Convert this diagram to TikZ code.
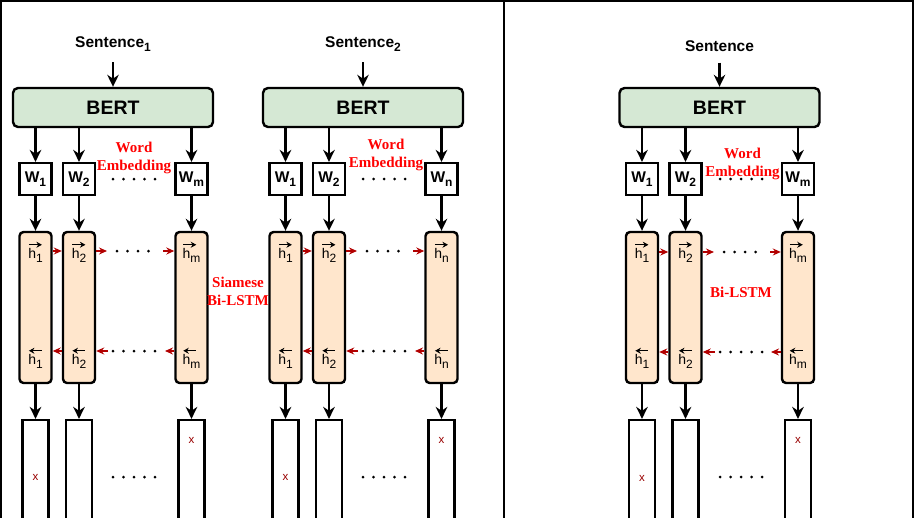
\documentclass[tikz,border=0pt]{standalone}
\usepackage{fontspec}
\setmainfont{Liberation Serif}
\setsansfont{Liberation Sans}
\usetikzlibrary{arrows.meta}

\definecolor{bertgreen}{HTML}{D5E8D4}
\definecolor{lstmorange}{HTML}{FFE6CC}
\definecolor{arrowred}{HTML}{B20000}
\definecolor{xred}{HTML}{990000}

% subscripts and hidden states with a direction arrow on top
\newcommand{\sub}[1]{\raisebox{-3.5pt}{\fontsize{12}{12}\selectfont #1}}
\newcommand{\hfw}[1]{\rlap{\raisebox{11pt}{\tikz\draw[-{Stealth[length=5.5pt,width=6pt]},line width=1.3pt] (0pt,0pt) -- (13pt,0pt);}}h\sub{#1}}
\newcommand{\hbw}[1]{\rlap{\raisebox{11pt}{\tikz\draw[{Stealth[length=5.5pt,width=6pt]}-,line width=1.3pt] (0pt,0pt) -- (13pt,0pt);}}h\sub{#1}}

\begin{document}
\begin{tikzpicture}[x=1pt,y=-1pt,
  arr/.style={-{Stealth[length=12pt,width=11.5pt]},line width=2.2pt},
  rarr/.style={-{Stealth[length=8pt,width=7pt]},line width=1.4pt,draw=arrowred},
  dotrow/.style={line width=3pt,line cap=round,dash pattern=on 0pt off 10.5pt},
  sent/.style={font=\sffamily\bfseries\fontsize{15.5}{18}\selectfont,inner sep=0pt},
  bert/.style={draw,line width=2.4pt,rounded corners=5pt,fill=bertgreen,minimum width=200pt,minimum height=39pt,font=\sffamily\bfseries\fontsize{19.5}{22}\selectfont},
  wbox/.style={draw,line width=2.2pt,fill=white,minimum width=32pt,minimum height=32pt,inner sep=0pt,font=\sffamily\bfseries\fontsize{15.5}{17}\selectfont},
  lstm/.style={draw,line width=2.4pt,rounded corners=4pt,fill=lstmorange,minimum width=32pt,minimum height=151pt},
  hlab/.style={font=\sffamily\fontsize{14}{16}\selectfont,inner sep=0pt},
  outbox/.style={draw,line width=2.2pt,fill=white,minimum width=26pt,minimum height=130pt},
  xlab/.style={text=xred,font=\sffamily\fontsize{11.5}{12}\selectfont,inner sep=0pt},
  redlab/.style={text=red,font=\bfseries\fontsize{15}{18}\selectfont,align=center,inner sep=0pt}]

\clip (0,0) rectangle (918,517);

% Frame and divider
\draw[line width=2.2pt] (1,530) -- (1,1) -- (913,1) -- (913,530);
\draw[line width=2.2pt] (504,1) -- (504,530);

% ---------- Panel 1: Sentence 1 ----------
\node[sent] (s1) at (113,44) {Sentence\sub{1}};
\node[bert] (b1) at (113,107.5) {BERT};
\draw[arr,shorten <=11pt] (s1) -- (b1);

% word embeddings
\node[wbox] (w11) at (35.5,179) {W\sub{1}};
\node[wbox] (w12) at (79,179) {W\sub{2}};
\node[wbox] (w1m) at (191.5,179) {W\sub{m}};
\draw[arr] (b1.south -| w11) -- (w11);
\draw[arr] (b1.south -| w12) -- (w12);
\draw[arr] (b1.south -| w1m) -- (w1m);
\draw[dotrow] (113,179) -- (156,179);
\node[redlab] (we1) at (134,158) {Word\\Embedding};

% Bi-LSTM cells
\node[lstm] (l11) at (35.5,307.5) {};
\node[lstm] (l12) at (79,307.5) {};
\node[lstm] (l1m) at (191.5,307.5) {};
\draw[arr] (w11) -- (l11);
\draw[arr] (w12) -- (l12);
\draw[arr] (w1m) -- (l1m);
\node[hlab] (f11) at (35.5,252) {\hfw{1}};
\node[hlab] (f12) at (79,252) {\hfw{2}};
\node[hlab] (f1m) at (191.5,252) {\hfw{m}};
\node[hlab] (k11) at (35.5,358) {\hbw{1}};
\node[hlab] (k12) at (79,358) {\hbw{2}};
\node[hlab] (k1m) at (191.5,358) {\hbw{m}};

% forward and backward passes
\coordinate (fa1) at (107,251);
\coordinate (fb1) at (163,251);
\draw[rarr] (l11.east |- fa1) -- (l12.west |- fa1);
\draw[rarr] (l12.east |- fa1) -- (fa1);
\draw[rarr] (fb1) -- (l1m.west |- fb1);
\draw[dotrow] (117,251) -- (158,251);
\coordinate (ba1) at (108,351);
\coordinate (bb1) at (165,351);
\draw[rarr] (l12.west |- ba1) -- (l11.east |- ba1);
\draw[rarr] (ba1) -- (l12.east |- ba1);
\draw[rarr] (l1m.west |- bb1) -- (bb1);
\draw[dotrow] (113,351) -- (156,351);

% outputs
\node[outbox] (o11) at (35.5,485) {};
\node[outbox] (o12) at (79,485) {};
\node[outbox] (o1m) at (191.5,485) {};
\draw[arr] (l11) -- (o11);
\draw[arr] (l12) -- (o12);
\draw[arr] (l1m) -- (o1m);
\node[xlab] (x11) at (35.5,477) {x};
\node[xlab] (x1m) at (191.5,440) {x};
\draw[dotrow] (113,477) -- (156,477);

\node[redlab] (sbl) at (238,291) {Siamese\\Bi-LSTM};

% ---------- Panel 2: Sentence 2 ----------
\node[sent] (s2) at (363,44) {Sentence\sub{2}};
\node[bert] (b2) at (363,107.5) {BERT};
\draw[arr,shorten <=11pt] (s2) -- (b2);

% word embeddings
\node[wbox] (w21) at (285.5,179) {W\sub{1}};
\node[wbox] (w22) at (329,179) {W\sub{2}};
\node[wbox] (w2n) at (441.5,179) {W\sub{n}};
\draw[arr] (b2.south -| w21) -- (w21);
\draw[arr] (b2.south -| w22) -- (w22);
\draw[arr] (b2.south -| w2n) -- (w2n);
\draw[dotrow] (363,179) -- (406,179);
\node[redlab] (we2) at (386,155) {Word\\Embedding};

% Bi-LSTM cells
\node[lstm] (l21) at (285.5,307.5) {};
\node[lstm] (l22) at (329,307.5) {};
\node[lstm] (l2n) at (441.5,307.5) {};
\draw[arr] (w21) -- (l21);
\draw[arr] (w22) -- (l22);
\draw[arr] (w2n) -- (l2n);
\node[hlab] (f21) at (285.5,252) {\hfw{1}};
\node[hlab] (f22) at (329,252) {\hfw{2}};
\node[hlab] (f2n) at (441.5,252) {\hfw{n}};
\node[hlab] (k21) at (285.5,358) {\hbw{1}};
\node[hlab] (k22) at (329,358) {\hbw{2}};
\node[hlab] (k2n) at (441.5,358) {\hbw{n}};

% forward and backward passes
\coordinate (fa2) at (357,251);
\coordinate (fb2) at (413,251);
\draw[rarr] (l21.east |- fa2) -- (l22.west |- fa2);
\draw[rarr] (l22.east |- fa2) -- (fa2);
\draw[rarr] (fb2) -- (l2n.west |- fb2);
\draw[dotrow] (367,251) -- (408,251);
\coordinate (ba2) at (358,351);
\coordinate (bb2) at (415,351);
\draw[rarr] (l22.west |- ba2) -- (l21.east |- ba2);
\draw[rarr] (ba2) -- (l22.east |- ba2);
\draw[rarr] (l2n.west |- bb2) -- (bb2);
\draw[dotrow] (363,351) -- (406,351);

% outputs
\node[outbox] (o21) at (285.5,485) {};
\node[outbox] (o22) at (329,485) {};
\node[outbox] (o2n) at (441.5,485) {};
\draw[arr] (l21) -- (o21);
\draw[arr] (l22) -- (o22);
\draw[arr] (l2n) -- (o2n);
\node[xlab] (x21) at (285.5,477) {x};
\node[xlab] (x2n) at (441.5,440) {x};
\draw[dotrow] (363,477) -- (406,477);

% ---------- Panel 3: single Sentence ----------
\node[sent] (s3) at (719.5,46) {Sentence};
\node[bert] (b3) at (719.5,107.5) {BERT};
\draw[arr,shorten <=11pt] (s3) -- (b3);

% word embeddings
\node[wbox] (w31) at (642,179) {W\sub{1}};
\node[wbox] (w32) at (685.5,179) {W\sub{2}};
\node[wbox] (w3m) at (798,179) {W\sub{m}};
\draw[arr] (b3.south -| w31) -- (w31);
\draw[arr] (b3.south -| w32) -- (w32);
\draw[arr] (b3.south -| w3m) -- (w3m);
\draw[dotrow] (720,179) -- (763,179);
\node[redlab] (we3) at (742.5,164) {Word\\Embedding};

% Bi-LSTM cells
\node[lstm] (l31) at (642,307.5) {};
\node[lstm] (l32) at (685.5,307.5) {};
\node[lstm] (l3m) at (798,307.5) {};
\draw[arr] (w31) -- (l31);
\draw[arr] (w32) -- (l32);
\draw[arr] (w3m) -- (l3m);
\node[hlab] (f31) at (642,252) {\hfw{1}};
\node[hlab] (f32) at (685.5,252) {\hfw{2}};
\node[hlab] (f3m) at (798,252) {\hfw{m}};
\node[hlab] (k31) at (642,358) {\hbw{1}};
\node[hlab] (k32) at (685.5,358) {\hbw{2}};
\node[hlab] (k3m) at (798,358) {\hbw{m}};

% forward and backward passes
\coordinate (fa3) at (714,252);
\coordinate (fb3) at (770,252);
\draw[rarr] (l31.east |- fa3) -- (l32.west |- fa3);
\draw[rarr] (l32.east |- fa3) -- (fa3);
\draw[rarr] (fb3) -- (l3m.west |- fb3);
\draw[dotrow] (724,252) -- (765,252);
\coordinate (ba3) at (715,352);
\coordinate (bb3) at (771,352);
\draw[rarr] (l32.west |- ba3) -- (l31.east |- ba3);
\draw[rarr] (ba3) -- (l32.east |- ba3);
\draw[rarr] (l3m.west |- bb3) -- (bb3);
\draw[dotrow] (720,352) -- (763,352);

% outputs
\node[outbox] (o31) at (642,485) {};
\node[outbox] (o32) at (685.5,485) {};
\node[outbox] (o3m) at (798,485) {};
\draw[arr] (l31) -- (o31);
\draw[arr] (l32) -- (o32);
\draw[arr] (l3m) -- (o3m);
\node[xlab] (x31) at (642,478) {x};
\node[xlab] (x3m) at (798,440) {x};
\draw[dotrow] (720,477) -- (763,477);

\node[redlab] (bl3) at (741,292) {Bi-LSTM};

\end{tikzpicture}
\end{document}
